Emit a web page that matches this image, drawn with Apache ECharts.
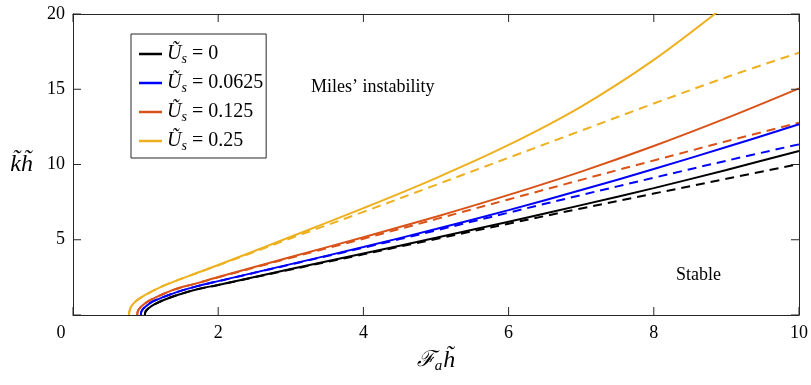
<!DOCTYPE html>
<html>
<head>
<meta charset="utf-8">
<script src="https://cdn.jsdelivr.net/npm/echarts@6/dist/echarts.min.js"></script>
<style>html,body{margin:0;padding:0;background:#fff}#c{width:811px;height:385px}</style>
</head>
<body>
<div id="c"></div>
<script>
// ---- data ----
const xTickValues = [0, 2, 4, 6, 8, 10];
const xTickLabels = ['0', '2', '4', '6', '8', '10'];
const yTickValues = [0, 5, 10, 15, 20];
const yTickLabels = ['', '5', '10', '15', '20'];
const legendNames = ['0', '0.0625', '0.125', '0.25'];

const blackSolid = [[0.99,0],[0.995,0.17],[1.01,0.3],[1.05,0.48],[1.12,0.7],[1.25,1.0],[1.45,1.35],[1.7,1.7],[2.0,2.0],[3.0,3.05],[4.0,4.08],[5.0,5.13],[6.0,6.2],[7.0,7.3],[8.0,8.43],[9.0,9.64],[10,10.9]];
const blackDashed = [[0.99,0],[0.995,0.17],[1.01,0.3],[1.05,0.48],[1.12,0.7],[1.25,1.0],[1.45,1.35],[1.7,1.7],[2.0,1.99],[3.0,3.02],[4.0,4.03],[5.0,5.05],[6.0,6.07],[7.0,7.08],[8.0,8.07],[9.0,9.05],[10,10.03]];
const blueSolid = [[0.935,0],[0.94,0.2],[0.96,0.38],[1.01,0.6],[1.1,0.9],[1.25,1.2],[1.45,1.55],[1.7,1.9],[2.0,2.25],[3.0,3.38],[4.0,4.52],[5.0,5.71],[6.0,6.97],[7.0,8.3],[8.0,9.7],[9.0,11.16],[10,12.67]];
const blueDashed = [[0.935,0],[0.94,0.2],[0.96,0.38],[1.01,0.6],[1.1,0.9],[1.25,1.2],[1.45,1.55],[1.7,1.9],[2.0,2.24],[3.0,3.36],[4.0,4.47],[5.0,5.62],[6.0,6.8],[7.0,7.97],[8.0,9.12],[9.0,10.25],[10,11.34]];
const orangeSolid = [[0.885,0],[0.89,0.2],[0.91,0.4],[0.96,0.65],[1.05,0.95],[1.2,1.3],[1.4,1.7],[1.7,2.1],[2.0,2.52],[3.0,3.85],[4.0,5.17],[5.0,6.53],[6.0,7.98],[7.0,9.53],[8.0,11.23],[9.0,13.08],[10,15.06]];
const orangeDashed = [[0.885,0],[0.89,0.2],[0.91,0.4],[0.96,0.65],[1.05,0.95],[1.2,1.3],[1.4,1.7],[1.7,2.1],[2.0,2.5],[3.0,3.8],[4.0,5.07],[5.0,6.37],[6.0,7.68],[7.0,8.98],[8.0,10.27],[9.0,11.54],[10,12.78]];
const yellowSolid = [[0.77,0],[0.78,0.3],[0.8,0.55],[0.85,0.85],[0.95,1.2],[1.1,1.6],[1.3,2.05],[1.6,2.6],[2.0,3.32],[3.0,5.2],[4.0,7.1],[5.0,9.1],[6.0,11.3],[7.0,13.85],[8.0,16.95],[9.0,20.6]];
const yellowDashed = [[0.77,0],[0.78,0.3],[0.8,0.55],[0.85,0.85],[0.95,1.2],[1.1,1.6],[1.3,2.05],[1.6,2.6],[2.0,3.3],[3.0,5.1],[4.0,6.85],[5.0,8.65],[6.0,10.45],[7.0,12.25],[8.0,14.05],[9.0,15.8],[10,17.43]];

const colors = ['#000000', '#0000FF', '#D95319', '#EDB120'];
const solids = [blackSolid, blueSolid, orangeSolid, yellowSolid];
const dashes = [blackDashed, blueDashed, orangeDashed, yellowDashed];

const SERIF = '"Liberation Serif", "Times New Roman", serif';
const AX = '#262626';
const TICK = 8;

const chart = echarts.init(document.getElementById('c'), null, {renderer: 'canvas'});

const series = [];
dashes.forEach((d, i) => {
  series.push({
    name: 'dash' + i, type: 'line', data: d, xAxisIndex: 0, yAxisIndex: 0,
    showSymbol: false, symbol: 'none', smooth: 0.35, clip: true, silent: true,
    lineStyle: {color: colors[i], width: 2, type: [9, 6]}
  });
});
solids.forEach((d, i) => {
  series.push({
    name: legendNames[i], type: 'line', data: d, xAxisIndex: 0, yAxisIndex: 0,
    showSymbol: false, symbol: 'none', smooth: 0.35, clip: true, silent: true,
    color: colors[i],
    itemStyle: {color: colors[i]},
    lineStyle: {color: colors[i], width: 2}
  });
});

// inward tick marks on all four sides, placed through the axis scales
series.push({
  type: 'custom', name: 'xticks', silent: true, clip: false, z: 5,
  data: xTickValues.map(v => [v]),
  renderItem: (params, api) => {
    const v = api.value(0);
    const b = api.coord([v, 0]);
    const t = api.coord([v, 20]);
    const st = {stroke: AX, lineWidth: 1};
    return {type: 'group', children: [
      {type: 'line', shape: {x1: b[0], y1: b[1], x2: b[0], y2: b[1] - TICK}, style: st},
      {type: 'line', shape: {x1: t[0], y1: t[1], x2: t[0], y2: t[1] + TICK}, style: st}
    ]};
  }
});
series.push({
  type: 'custom', name: 'yticks', silent: true, clip: false, z: 5,
  data: yTickValues.map(v => [0, v]),
  renderItem: (params, api) => {
    const v = api.value(1);
    const l = api.coord([0, v]);
    const r = api.coord([10, v]);
    const st = {stroke: AX, lineWidth: 1};
    return {type: 'group', children: [
      {type: 'line', shape: {x1: l[0], y1: l[1], x2: l[0] + TICK, y2: l[1]}, style: st},
      {type: 'line', shape: {x1: r[0], y1: r[1], x2: r[0] - TICK, y2: r[1]}, style: st}
    ]};
  }
});

function lineCfg() {
  return {show: true, onZero: false, lineStyle: {color: AX, width: 1}};
}

chart.setOption({
  animation: false,
  backgroundColor: '#fff',
  grid: {left: 73, right: 10, top: 14, bottom: 70, containLabel: false},
  xAxis: [
    {
      type: 'value', min: 0, max: 10, interval: 2, position: 'bottom',
      axisLine: lineCfg(), axisTick: {show: false}, splitLine: {show: false},
      name: '{f|ℱ}{a|a}{h|h̃}', nameLocation: 'middle', nameGap: 32,
      nameTextStyle: {
        rich: {
          f: {fontFamily: '"DejaVu Serif", serif', fontStyle: 'italic', fontSize: 22, color: '#000'},
          a: {fontFamily: SERIF, fontStyle: 'italic', fontSize: 15, color: '#000', padding: [12, 1, 0, 0]},
          h: {fontFamily: SERIF, fontStyle: 'italic', fontSize: 24, color: '#000'}
        }
      },
      axisLabel: {
        margin: 9, fontFamily: SERIF, fontSize: 18, color: '#000',
        formatter: (v) => { const s = xTickLabels[xTickValues.indexOf(v)]; return v === 0 ? '{z|' + s + '}' : s; },
        rich: {z: {fontFamily: SERIF, fontSize: 18, color: '#000', padding: [0, 24, 0, 0]}}
      }
    },
    {
      type: 'value', min: 0, max: 10, interval: 2, position: 'top',
      axisLine: lineCfg(), axisTick: {show: false}, splitLine: {show: false},
      axisLabel: {show: false}
    }
  ],
  yAxis: [
    {
      type: 'value', min: 0, max: 20, interval: 5, position: 'left',
      axisLine: lineCfg(), axisTick: {show: false}, splitLine: {show: false},
      name: '{k|k̃}{h|h̃}', nameLocation: 'middle', nameRotate: 0, nameGap: 40,
      nameTextStyle: {
        rich: {
          k: {fontFamily: SERIF, fontStyle: 'italic', fontSize: 24, color: '#000'},
          h: {fontFamily: SERIF, fontStyle: 'italic', fontSize: 24, color: '#000'}
        }
      },
      axisLabel: {
        margin: 8, fontFamily: SERIF, fontSize: 18, color: '#000',
        formatter: (v) => yTickLabels[yTickValues.indexOf(v)]
      }
    },
    {
      type: 'value', min: 0, max: 20, interval: 5, position: 'right',
      axisLine: lineCfg(), axisTick: {show: false}, splitLine: {show: false},
      axisLabel: {show: false}
    }
  ],
  legend: {
    data: legendNames.map(n => ({name: n, icon: 'rect'})),
    orient: 'vertical', left: 131, top: 34,
    padding: [8, 3, 5, 8],
    itemWidth: 23, itemHeight: 2.5, itemGap: 5,
    backgroundColor: '#fff', borderColor: AX, borderWidth: 1, borderRadius: 0,
    selectedMode: false,
    formatter: (name) => '{u|Ũ}{s|s}{t| = ' + name + '}',
    textStyle: {
      color: '#000',
      rich: {
        u: {fontFamily: SERIF, fontStyle: 'italic', fontSize: 20, lineHeight: 24, color: '#000'},
        s: {fontFamily: SERIF, fontStyle: 'italic', fontSize: 14, lineHeight: 24, color: '#000', padding: [10, 0, 0, 0]},
        t: {fontFamily: SERIF, fontSize: 20, lineHeight: 24, color: '#000'}
      }
    }
  },
  graphic: [
    {type: 'text', left: 311, top: 78, silent: true,
     style: {text: 'Miles’ instability', font: '18px "Liberation Serif"', fill: '#000'}},
    {type: 'text', left: 676, top: 266, silent: true,
     style: {text: 'Stable', font: '18px "Liberation Serif"', fill: '#000'}}
  ],
  series: series
});
</script>
</body>
</html>
